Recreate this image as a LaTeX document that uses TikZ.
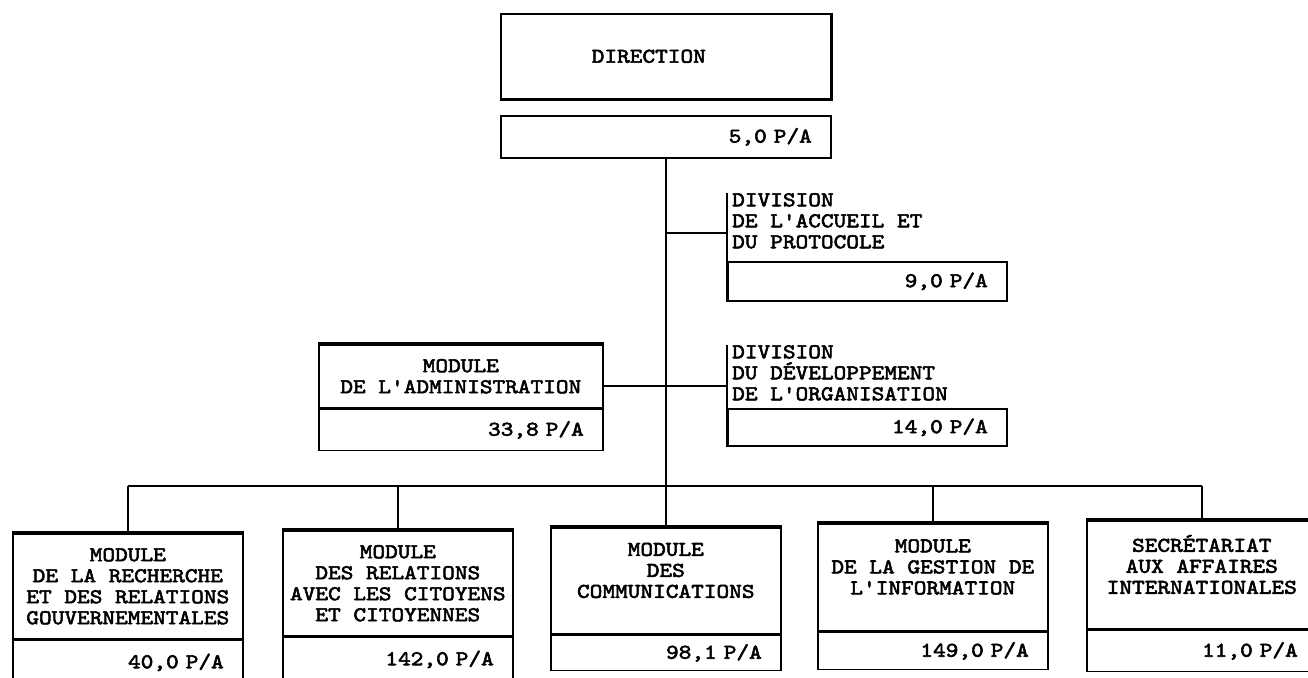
\documentclass[tikz,border=0pt]{standalone}
\usepackage{fontspec}
\newfontfamily\orgfont{lmmono10-regular.otf}[FakeBold=2.6, FakeStretch=1.15]
\usetikzlibrary{positioning}

\tikzset{
  every node/.style={font=\orgfont\fontsize{21}{21}\selectfont},
  frame/.style={draw, line width=1.6pt, anchor=north west, inner sep=0pt},
  titlebox/.style={frame, align=center, minimum width=#1},
  valbox/.style={frame, align=right, inner xsep=19pt, text width=#1},
  divtext/.style={anchor=north west, align=left, inner xsep=5pt, inner ysep=0pt},
  heavy/.style={line width=3.6pt},
  link/.style={line width=1.6pt},
}

\begin{document}
\begin{tikzpicture}[x=1pt, y=-1pt]
\useasboundingbox[fill=white] (0,0) rectangle (1308,677);

% direction
\node[titlebox=330pt, minimum height=85pt] (dir) at (500,13) {\hspace*{-34pt}DIRECTION};
\node[valbox=292pt, minimum height=42pt] (dirv) at (500,115) {5,0 P/A};
\draw[heavy] (dir.south west) -- (dir.south east) -- (dir.north east);

% divisions
\node[divtext] (div1) at (727,193) {DIVISION\\DE L'ACCUEIL ET\\DU PROTOCOLE};
\node[valbox=241pt, minimum height=39pt] (div1v) at (727,261) {9,0 P/A};
\node[divtext] (div2) at (727,345) {DIVISION\\DU DÉVELOPPEMENT\\DE L'ORGANISATION};
\node[valbox=241pt, minimum height=37pt] (div2v) at (727,408) {14,0 P/A};
\draw[link] (div1.north west) -- (div1v.south west);
\draw[link] (div2.north west) -- (div2v.south west);

% administration
\node[titlebox=284pt, minimum height=63pt] (adm) at (318,344) {MODULE\\DE L'ADMINISTRATION};
\node[valbox=246pt, minimum height=41pt] (admv) at (adm.south west) {33,8 P/A};

% modules
\node[titlebox=230pt, minimum height=105pt] (m1) at (12,533) {MODULE\\DE LA RECHERCHE\\ET DES RELATIONS\\GOUVERNEMENTALES};
\node[valbox=192pt, minimum height=44pt] (m1v) at (m1.south west) {40,0 P/A};
\node[titlebox=230pt, minimum height=105pt] (m2) at (282,530) {MODULE\\DES RELATIONS\\AVEC LES CITOYENS\\ET CITOYENNES};
\node[valbox=192pt, minimum height=44pt] (m2v) at (m2.south west) {142,0 P/A};
\node[titlebox=230pt, minimum height=106pt] (m3) at (550,527) {MODULE\\DES\\COMMUNICATIONS\\\mbox{}};
\node[valbox=192pt, minimum height=35pt] (m3v) at (m3.south west) {98,1 P/A};
\node[titlebox=230pt, minimum height=107pt] (m4) at (817,523) {MODULE\\DE LA GESTION DE\\L'INFORMATION\\\mbox{}};
\node[valbox=192pt, minimum height=37pt] (m4v) at (m4.south west) {149,0 P/A};
\node[titlebox=230pt, minimum height=108pt] (m5) at (1086,520) {SECRÉTARIAT\\AUX AFFAIRES\\INTERNATIONALES\\\mbox{}};
\node[valbox=192pt, minimum height=41pt] (m5v) at (m5.south west) {11,0 P/A};

\foreach \m in {adm,m1,m2,m3,m4,m5} {
  \draw[heavy] (\m.north west) -- (\m.north east);
  \draw[heavy] (\m.south west) -- (\m.south east);
}

% links
\coordinate (bus) at (665,486);
\coordinate (c1) at ([yshift=-12pt]div1.west);
\coordinate (c2) at ([yshift=-13pt]div2.west);
\draw[link] (dirv.south) -- (m3.north);
\draw[link] (c1 -| dirv.south) -- (c1);
\draw[link] (adm.east |- c2) -- (c2);
\draw[link] (m1.north |- bus) -- (m5.north |- bus);
\foreach \m in {m1,m2,m4,m5}
  \draw[link] (\m.north |- bus) -- (\m.north);
\end{tikzpicture}
\end{document}
